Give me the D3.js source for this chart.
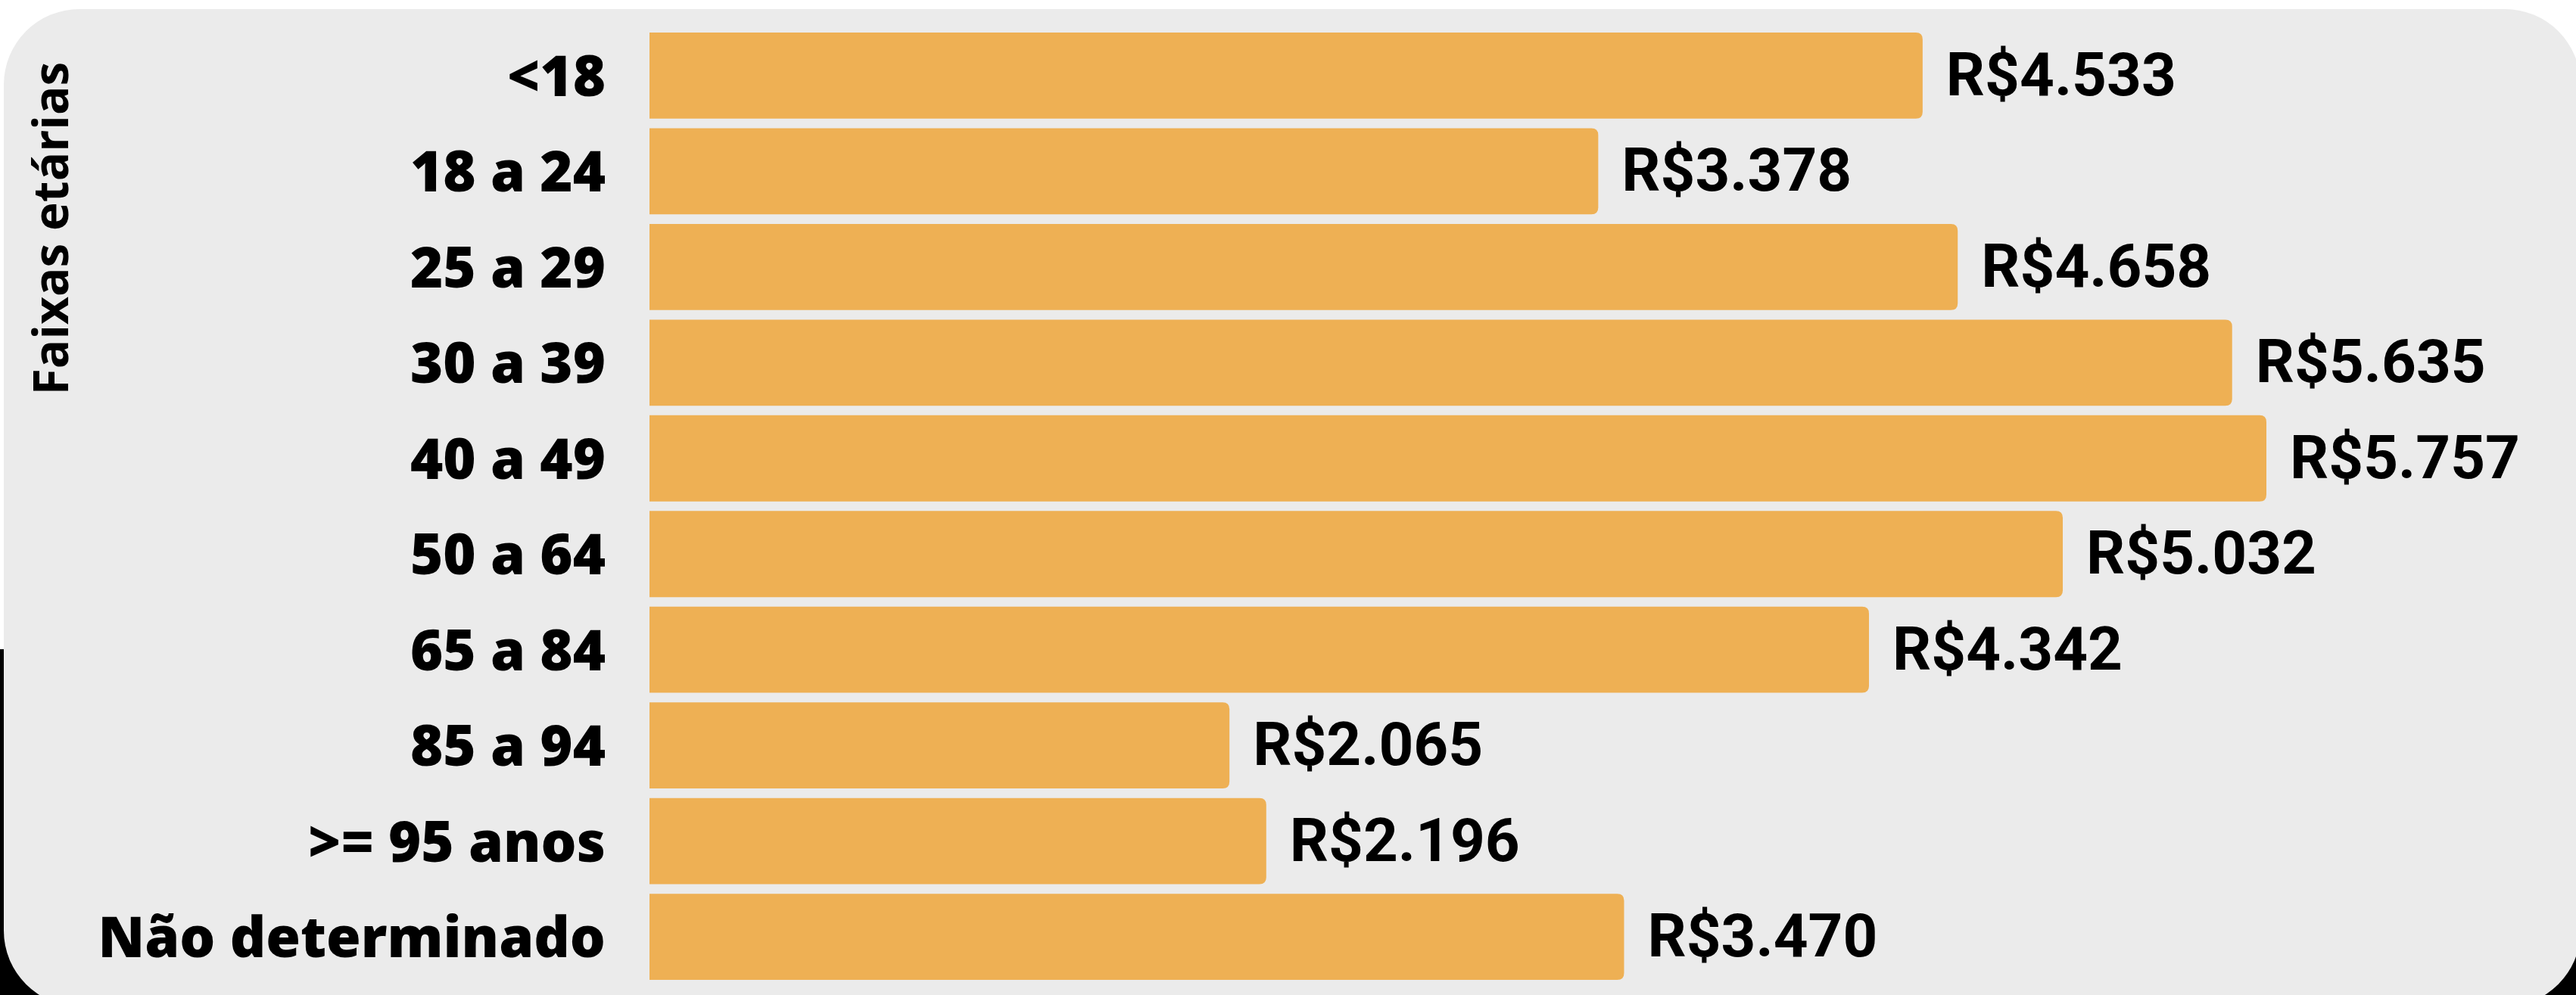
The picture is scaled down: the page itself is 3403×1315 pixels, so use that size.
<!DOCTYPE html>
<html>
<head>
<meta charset="utf-8">
<script src="https://cdn.jsdelivr.net/npm/d3@7"></script>
<style>
  body { margin: 0; background: #ffffff; }
  svg { display: block; }
</style>
</head>
<body>
<svg id="chart"></svg>
<script>
// dados
const faixas = ["<18", "18 a 24", "25 a 29", "30 a 39", "40 a 49", "50 a 64", "65 a 84", "85 a 94", ">= 95 anos", "Não determinado"];
const valores = [4533, 3378, 4658, 5635, 5757, 5032, 4342, 2065, 2196, 3470];
const tituloEixo = "Faixas etárias";

const width = 3403;
const height = 1315;
const barColor = "#eeb054";

const svg = d3.select("#chart")
    .attr("width", width)
    .attr("height", height);

// fundo de fora (branco em cima, preto embaixo)
svg.append("rect").attr("x", 0).attr("y", 0).attr("width", width).attr("height", 858).attr("fill", "#ffffff");
svg.append("rect").attr("x", 0).attr("y", 858).attr("width", width).attr("height", height - 858).attr("fill", "#000000");

// painel cinza
svg.append("rect")
    .attr("x", 5).attr("y", 12)
    .attr("width", 3404).attr("height", 1318)
    .attr("rx", 100).attr("ry", 100)
    .attr("fill", "#ebebeb");

// escalas
const x = d3.scaleLinear()
    .domain([0, d3.max(valores)])
    .range([858, 2994]);

const y = d3.scaleBand()
    .domain(faixas)
    .range([36.7, 1301.3])
    .paddingInner(0.1)
    .paddingOuter(0.05);

const data = faixas.map((f, i) => ({ faixa: f, valor: valores[i] }));

// barra com cantos arredondados so na direita
function barPath(d) {
    const x0 = x(0), x1 = x(d.valor);
    const y0 = y(d.faixa), h = y.bandwidth();
    const r = 9;
    return `M${x0},${y0}H${x1 - r}Q${x1},${y0} ${x1},${y0 + r}V${y0 + h - r}Q${x1},${y0 + h} ${x1 - r},${y0 + h}H${x0}Z`;
}

svg.append("g")
    .selectAll("path")
    .data(data)
    .enter()
    .append("path")
    .attr("d", barPath)
    .attr("fill", barColor);

// rotulos das categorias
svg.append("g")
    .selectAll("text")
    .data(data)
    .enter()
    .append("text")
    .attr("x", 800)
    .attr("y", d => y(d.faixa) + y.bandwidth() / 2 + 27)
    .attr("text-anchor", "end")
    .style("font-family", "'Open Sans', sans-serif")
    .style("font-weight", 800)
    .style("font-size", "74px")
    .attr("fill", "#000")
    .text(d => d.faixa);

// valores
const fmt = v => "R$" + d3.format(",")(v).replace(/,/g, ".");
svg.append("g")
    .selectAll("text")
    .data(data)
    .enter()
    .append("text")
    .attr("x", d => x(d.valor) + 31)
    .attr("y", d => y(d.faixa) + y.bandwidth() / 2 + 26)
    .style("font-family", "Roboto, sans-serif")
    .style("font-weight", 700)
    .style("font-size", "80px")
    .attr("fill", "#000")
    .text(d => fmt(d.valor));

// titulo do eixo
svg.append("text")
    .attr("transform", "translate(90, 302) rotate(-90)")
    .attr("text-anchor", "middle")
    .style("font-family", "'Open Sans', sans-serif")
    .style("font-weight", 700)
    .style("font-size", "64px")
    .attr("fill", "#000")
    .text(tituloEixo);
</script>
</body>
</html>
